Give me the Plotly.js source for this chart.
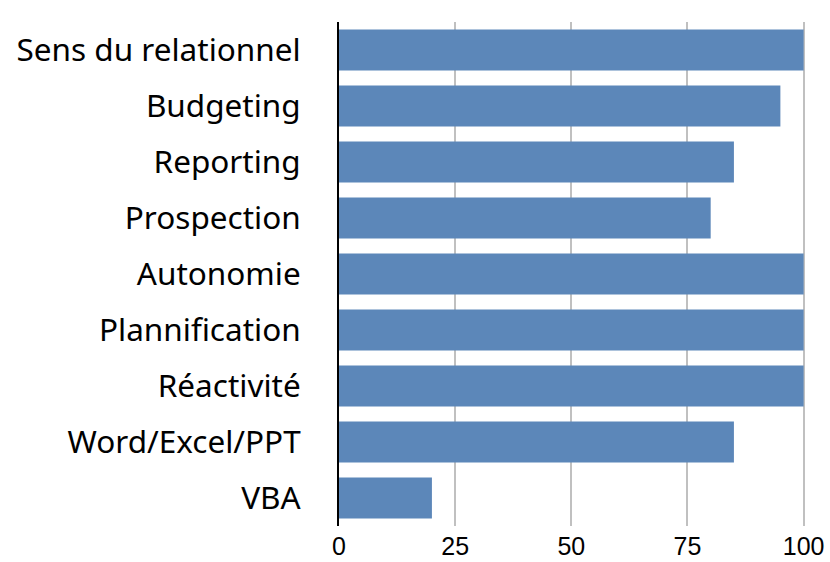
<!DOCTYPE html>
<html>
<head>
<meta charset="utf-8">
<script src="https://cdn.plot.ly/plotly-3.0.1.min.js"></script>
<style>html,body{margin:0;padding:0;background:#fff;}#chart{width:830px;height:562px;}</style>
</head>
<body>
<div id="chart"></div>
<script>
const categories = ["Sens du relationnel","Budgeting","Reporting","Prospection","Autonomie","Plannification","Réactivité","Word/Excel/PPT","VBA"];
const values = [100, 95, 85, 80, 100, 100, 100, 85, 20];
const xTickValues = [0, 25, 50, 75, 100];

const trace = {
  type: "bar",
  orientation: "h",
  y: categories,
  x: values,
  marker: {color: "#5c87b9"},
  hoverinfo: "skip"
};

const layout = {
  width: 830, height: 562,
  margin: {l: 339, r: 25, t: 22, b: 36},
  paper_bgcolor: "#ffffff", plot_bgcolor: "#ffffff",
  showlegend: false,
  bargap: 0.27,
  xaxis: {
    range: [0, 100.3],
    tickvals: xTickValues,
    ticktext: xTickValues.map(String),
    showgrid: true, gridcolor: "#c0c0c0", gridwidth: 2,
    zeroline: false, showline: false, ticks: "",
    ticklabelstandoff: 3,
    tickfont: {family: "Liberation Sans, Arial, sans-serif", size: 25, color: "#000"},
    fixedrange: true
  },
  yaxis: {
    type: "category",
    autorange: "reversed",
    showgrid: false, zeroline: false,
    showline: true, linecolor: "#000", linewidth: 2,
    ticks: "", ticklabelstandoff: 30,
    tickfont: {family: "Noto Sans, sans-serif", size: 31.5, color: "#000"},
    fixedrange: true
  }
};

Plotly.newPlot("chart", [trace], layout, {displayModeBar: false, staticPlot: true});
</script>
</body>
</html>
